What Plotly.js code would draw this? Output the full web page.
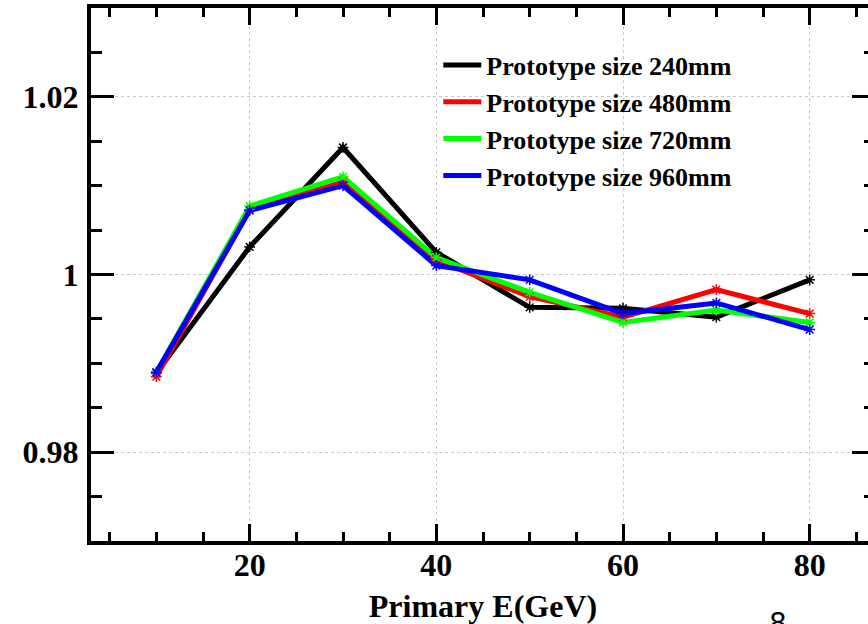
<!DOCTYPE html>
<html>
<head>
<meta charset="utf-8">
<script src="https://cdn.plot.ly/plotly-3.0.1.min.js"></script>
<style>
html, body { margin: 0; padding: 0; overflow: hidden; background: #fff; }
#chart { width: 877px; height: 624px; }
</style>
</head>
<body>
<div id="chart"></div>
<script>
// Data
const energies = [10, 20, 30, 40, 50, 60, 70, 80];
const size240 = [0.9889, 1.0031, 1.0143, 1.0025, 0.9963, 0.9962, 0.9952, 0.9994];
const size480 = [0.9885, 1.0073, 1.0104, 1.0016, 0.9975, 0.9952, 0.9983, 0.9956];
const size720 = [0.9890, 1.0077, 1.0110, 1.0019, 0.9980, 0.9946, 0.9960, 0.9946];
const size960 = [0.9890, 1.0072, 1.0100, 1.0010, 0.9994, 0.9956, 0.9968, 0.9938];
const seriesNames = ['Prototype size 240mm', 'Prototype size 480mm', 'Prototype size 720mm', 'Prototype size 960mm'];
const seriesColors = ['#000000', '#ff0000', '#00ff00', '#0000ff'];
const xTickVals = [20, 40, 60, 80];
const xTickText = ['20', '40', '60', '80'];
const yTickVals = [0.98, 1, 1.02];
const yTickText = ['0.98', '1', '1.02'];
const xTitle = 'Primary E(GeV)';
const strayText = '8';

const allY = [size240, size480, size720, size960];
const lineTraces = allY.map((ys, i) => ({
  type: 'scatter',
  mode: 'lines',
  x: energies,
  y: ys,
  name: seriesNames[i],
  line: { color: seriesColors[i], width: 5 }
}));
const markerTraces = allY.map((ys, i) => ({
  type: 'scatter',
  mode: 'markers',
  x: energies,
  y: ys,
  name: seriesNames[i],
  showlegend: false,
  marker: { symbol: 'asterisk-open', size: 9, color: seriesColors[i], line: { color: seriesColors[i], width: 1.5 } }
}));

const serifBold = { family: 'Liberation Serif, Times New Roman, serif', weight: 'bold', color: '#000' };

const layout = {
  width: 877,
  height: 624,
  margin: { l: 91, r: 2, t: 8, b: 83 },
  paper_bgcolor: '#fff',
  plot_bgcolor: '#fff',
  showlegend: true,
  legend: {
    x: 0.443, y: 0.937, xanchor: 'left', yanchor: 'top',
    bgcolor: 'rgba(0,0,0,0)',
    font: Object.assign({}, serifBold, { size: 26 }),
    itemwidth: 38
  },
  xaxis: {
    range: [3, 87],
    tickmode: 'array', tickvals: xTickVals, ticktext: xTickText,
    ticks: 'inside', ticklen: 17, tickwidth: 3, tickcolor: '#000',
    minor: { dtick: 5, tick0: 0, ticks: 'inside', ticklen: 9, tickwidth: 3, tickcolor: '#000', showgrid: false },
    showline: true, linewidth: 4, linecolor: '#000', mirror: 'allticks',
    showgrid: true, gridcolor: '#c8c8c8', gridwidth: 1, griddash: 'dot',
    zeroline: false,
    tickfont: Object.assign({}, serifBold, { size: 32 }),
    ticklabelstandoff: -7,
    title: { text: xTitle, font: Object.assign({}, serifBold, { size: 32 }), standoff: 18 }
  },
  yaxis: {
    range: [0.97, 1.03],
    tickmode: 'array', tickvals: yTickVals, ticktext: yTickText,
    ticks: 'inside', ticklen: 23, tickwidth: 3, tickcolor: '#000',
    minor: { dtick: 0.005, tick0: 0, ticks: 'inside', ticklen: 11, tickwidth: 3, tickcolor: '#000', showgrid: false },
    showline: true, linewidth: 4, linecolor: '#000', mirror: 'allticks',
    showgrid: true, gridcolor: '#c8c8c8', gridwidth: 1, griddash: 'dot',
    zeroline: false,
    tickfont: Object.assign({}, serifBold, { size: 32 }),
    ticklabelstandoff: 2
  },
  annotations: [{
    text: strayText, xref: 'paper', yref: 'paper',
    x: 0.876, y: -0.121, xanchor: 'center', yanchor: 'top',
    showarrow: false,
    font: { family: 'DejaVu Sans', size: 28, color: '#000' }
  }]
};

Plotly.newPlot('chart', lineTraces.concat(markerTraces), layout, { displayModeBar: false, staticPlot: true });
</script>
</body>
</html>
